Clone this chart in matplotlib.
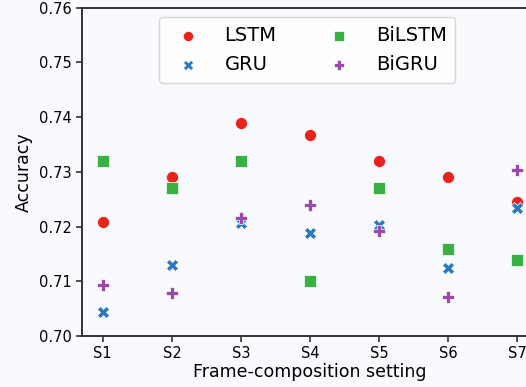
# accuracy per frame-composition setting, 4 models
import numpy as np
import matplotlib.pyplot as plt

settings = ["S1", "S2", "S3", "S4", "S5", "S6", "S7"]
lstm   = [0.7209, 0.7291, 0.7390, 0.7368, 0.7320, 0.7290, 0.7244]
gru    = [0.7044, 0.7130, 0.7207, 0.7189, 0.7202, 0.7125, 0.7233]
bilstm = [0.7319, 0.7271, 0.7320, 0.7101, 0.7271, 0.7159, 0.7139]
bigru  = [0.7094, 0.7079, 0.7216, 0.7240, 0.7192, 0.7072, 0.7304]

names = ["LSTM", "GRU", "BiLSTM", "BiGRU"]
series = [lstm, gru, bilstm, bigru]
colors = ["#e8231c", "#2a78c0", "#38b043", "#9c4aa8"]
markers = ["o", "X", "s", "P"]

fig = plt.figure(figsize=(5.26, 3.87), dpi=100)
fig.patch.set_facecolor("#f8fafd")
# right part of the axes is cut off in the reference
ax = fig.add_axes([0.156, 0.132, 0.867, 0.848])
ax.set_facecolor("#f8fafd")

x = np.arange(len(settings))
for vals, name, c, m in zip(series, names, colors, markers):
    ax.scatter(x, vals, s=75, c=c, marker=m, label=name, edgecolors="white", linewidths=0.5, zorder=3)

ax.set_xlim(-0.3, 6.3)
ax.set_ylim(0.70, 0.76)
ax.set_xticks(x)
ax.set_xticklabels(settings)
ax.set_yticks(np.arange(0.70, 0.7601, 0.01))
ax.set_yticklabels(["%.2f" % v for v in np.arange(0.70, 0.7601, 0.01)])
ax.tick_params(labelsize=10.5, length=4, width=1.2, color="#333333")

for sp in ax.spines.values():
    sp.set_color("#333333")
    sp.set_linewidth(1.4)

ax.set_xlabel("Frame-composition setting", fontsize=12.5, labelpad=1)
ax.set_ylabel("Accuracy", fontsize=12.5, labelpad=4)

ax.legend(ncol=2, loc="upper center", bbox_to_anchor=(0.494, 1.0), fontsize=14,
          columnspacing=2.2, handletextpad=0.9, markerscale=0.85, frameon=True,
          borderpad=0.45, labelspacing=0.5)

fig.savefig("out.png", dpi=100, facecolor=fig.get_facecolor())
